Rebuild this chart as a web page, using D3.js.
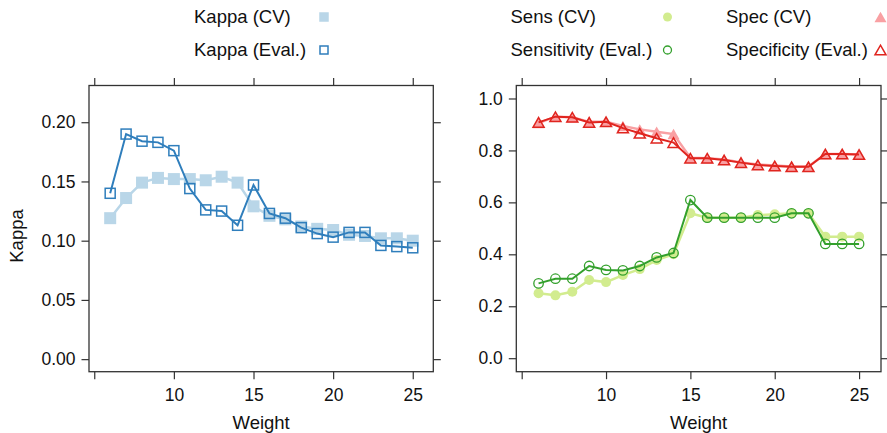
<!DOCTYPE html>
<html><head><meta charset="utf-8">
<script src="https://cdn.jsdelivr.net/npm/d3@7"></script>
<style>
body{margin:0;background:#fff}
svg{font-family:"Liberation Sans",Arial,Helvetica,sans-serif}
</style></head>
<body><svg id="c" width="887" height="433"></svg>
<script>
const weights=[6,7,8,9,10,11,12,13,14,15,16,17,18,19,20,21,22,23,24,25];
const kappaCV=[0.119,0.136,0.149,0.153,0.152,0.152,0.151,0.154,0.149,0.129,0.121,0.118,0.112,0.110,0.109,0.105,0.104,0.102,0.102,0.100];
const kappaEval=[0.140,0.190,0.184,0.183,0.176,0.144,0.126,0.125,0.113,0.147,0.123,0.119,0.111,0.106,0.103,0.107,0.107,0.096,0.095,0.094];
const sensCV=[0.250,0.242,0.256,0.301,0.293,0.320,0.343,0.378,0.400,0.558,0.541,0.541,0.541,0.551,0.554,0.558,0.558,0.468,0.468,0.468];
const sensEval=[0.288,0.306,0.306,0.355,0.340,0.338,0.355,0.388,0.405,0.609,0.541,0.541,0.541,0.541,0.541,0.558,0.558,0.440,0.440,0.440];
const specCV=[0.905,0.930,0.928,0.910,0.910,0.894,0.881,0.872,0.863,0.772,0.770,0.765,0.754,0.746,0.742,0.738,0.738,0.786,0.786,0.784];
const specEval=[0.908,0.930,0.928,0.908,0.910,0.886,0.866,0.847,0.830,0.770,0.770,0.763,0.753,0.744,0.740,0.737,0.737,0.786,0.786,0.784];
const xTicks=[5,10,15,20,25];
const kappaTicks=[0,0.05,0.10,0.15,0.20];
const rateTicks=[0,0.2,0.4,0.6,0.8,1.0];

const col={kCV:"#b9d6e8",kEv:"#2f7ebc",sCV:"#d2ec8f",sEv:"#33a02c",pCV:"#f9a0a3",pEv:"#e0251f"};

const svg=d3.select("#c");
const TOP=85.5,BOT=371.7;
const panels=[
 {x:d3.scaleLinear([4.67,26.29],[89,433.3]),y:d3.scaleLinear([-0.0106,0.231],[BOT,TOP]),yt:kappaTicks,fmt:d3.format(".2f")},
 {x:d3.scaleLinear([4.68,26.3],[516.3,881]),y:d3.scaleLinear([-0.052,1.05],[BOT,TOP]),yt:rateTicks,fmt:d3.format(".1f")}
];
const TS=7.5, axCol="#333";
function styleAxis(g,fs){
  g.select(".domain").remove();
  g.selectAll(".tick line").attr("stroke",axCol).attr("stroke-width",1.2);
  g.selectAll(".tick text").attr("fill","#111").attr("font-size",fs).attr("font-family",'"Liberation Sans",Arial,sans-serif');
}
panels.forEach(p=>{
  const [x0,x1]=p.x.range();
  svg.append("g").attr("transform",`translate(0,${BOT})`)
    .call(d3.axisBottom(p.x).tickValues(xTicks).tickSize(TS).tickPadding(9).tickFormat(d=>d===5?"":d))
    .call(g=>styleAxis(g,17.5));
  svg.append("g").attr("transform",`translate(0,${TOP})`)
    .call(d3.axisTop(p.x).tickValues(xTicks).tickSize(TS).tickFormat(""))
    .call(g=>styleAxis(g,17.5));
  svg.append("g").attr("transform",`translate(${x0},0)`)
    .call(d3.axisLeft(p.y).tickValues(p.yt).tickSize(TS).tickPadding(6).tickFormat(p.fmt))
    .call(g=>styleAxis(g,17.5));
  svg.append("g").attr("transform",`translate(${x1},0)`)
    .call(d3.axisRight(p.y).tickValues(p.yt).tickSize(TS).tickFormat(""))
    .call(g=>styleAxis(g,17.5));
  svg.append("rect").attr("x",x0).attr("y",TOP).attr("width",x1-x0).attr("height",BOT-TOP)
    .attr("fill","none").attr("stroke",axCol).attr("stroke-width",1.3);
  svg.append("text").attr("x",(x0+x1)/2).attr("y",429).attr("text-anchor","middle")
    .attr("font-size",18.5).attr("fill","#111").text("Weight");
});
svg.append("text").attr("transform","translate(23,236) rotate(-90)").attr("text-anchor","middle")
  .attr("font-size",18.5).attr("fill","#111").text("Kappa");

function drawSeries(p,vals,color,lw,shape,filled,size){
  const pts=weights.map((w,i)=>[p.x(w),p.y(vals[i])]);
  svg.append("path").attr("d",d3.line()(pts)).attr("fill","none").attr("stroke",color).attr("stroke-width",lw);
  const g=svg.append("g");
  pts.forEach(([x,y])=>drawMarker(g,x,y,color,shape,filled,size));
}
function drawMarker(g,x,y,color,shape,filled,size){
  if(shape==="square"){
    g.append("rect").attr("x",x-size/2).attr("y",y-size/2).attr("width",size).attr("height",size)
     .attr("fill",filled?color:"none").attr("stroke",filled?"none":color).attr("stroke-width",1.5);
  }else if(shape==="circle"){
    g.append("circle").attr("cx",x).attr("cy",y).attr("r",size/2)
     .attr("fill",filled?color:"none").attr("stroke",filled?"none":color).attr("stroke-width",1.3);
  }else{
    const w=size,h=size*0.866;
    g.append("path").attr("d",`M${x-w/2},${y+h/2}L${x+w/2},${y+h/2}L${x},${y-h/2}Z`)
     .attr("fill",filled?color:"none").attr("stroke",filled?"none":color).attr("stroke-width",1.5);
  }
}
const L=panels[0],R=panels[1];
drawSeries(L,kappaCV,col.kCV,2.5,"square",true,12);
drawSeries(L,kappaEval,col.kEv,2,"square",false,10);
drawSeries(R,sensCV,col.sCV,2.5,"circle",true,10);
drawSeries(R,specCV,col.pCV,2.5,"triangle",true,12);
drawSeries(R,sensEval,col.sEv,2,"circle",false,9.5);
drawSeries(R,specEval,col.pEv,2,"triangle",false,11);

// legend
const legendItems=[
 {t:"Kappa (CV)",tx:194,px:324,y:17,c:col.kCV,s:"square",f:true,z:9.5},
 {t:"Kappa (Eval.)",tx:194,px:324,y:50,c:col.kEv,s:"square",f:false,z:8},
 {t:"Sens (CV)",tx:510.5,px:667.5,y:17,c:col.sCV,s:"circle",f:true,z:9},
 {t:"Sensitivity (Eval.)",tx:510.5,px:667.5,y:50,c:col.sEv,s:"circle",f:false,z:8},
 {t:"Spec (CV)",tx:726,px:880.5,y:17,c:col.pCV,s:"triangle",f:true,z:12},
 {t:"Specificity (Eval.)",tx:726,px:880.5,y:50,c:col.pEv,s:"triangle",f:false,z:11}
];
const lg=svg.append("g");
legendItems.forEach(d=>{
  lg.append("text").attr("x",d.tx).attr("y",d.y).attr("dy","0.35em").attr("font-size",18.5).attr("fill","#111").text(d.t);
  drawMarker(lg,d.px,d.y,d.c,d.s,d.f,d.z);
});
</script></body></html>
